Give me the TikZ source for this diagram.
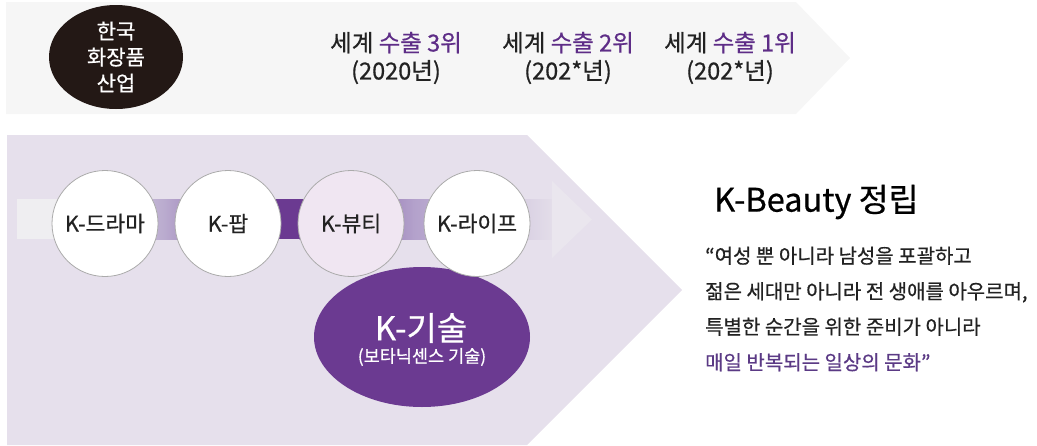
\documentclass[tikz,border=0pt]{standalone}
\usepackage{fontspec}
\setmainfont{Noto Sans CJK KR}[FakeBold=0.6]
\usetikzlibrary{calc,shapes.geometric}
\definecolor{topbg}{HTML}{F6F6F6}
\definecolor{lowbg}{HTML}{E6E0EC}
\definecolor{darkpurp}{HTML}{6B3A91}
\definecolor{txtpurp}{HTML}{5E2D87}
\definecolor{quotepurp}{HTML}{5B3A85}
\definecolor{blackoval}{HTML}{231815}
\definecolor{beautyfill}{HTML}{F0E6F2}
\definecolor{ringgray}{HTML}{ABABAB}
\definecolor{txtdark}{HTML}{222222}
\definecolor{bandA}{HTML}{EFEEF1}
\definecolor{bandB}{HTML}{B9AACE}
\definecolor{bandC}{HTML}{6B3A91}
\definecolor{bandD}{HTML}{B3A1CB}
\definecolor{bandE}{HTML}{E3DDE9}
\definecolor{headfill}{HTML}{EAE6EE}
\tikzset{
  kcircle/.style={circle, minimum size=106pt, inner sep=0pt, fill=white, draw=ringgray, line width=0.8pt,
     text=txtdark, font=\fontsize{21.5}{24}\selectfont},
  rank/.style={align=center, text=txtdark, font=\fontsize{23.5}{28}\selectfont},
}
\begin{document}
\begin{tikzpicture}[x=1pt,y=-1pt]
\useasboundingbox (0,0) rectangle (1037,445);
% top banner
\fill[topbg] (6,2) -- (796,2) -- (850,58) -- (796,114) -- (6,114) -- cycle;
% lower chevron
\fill[lowbg] (7,135) -- (527,135) -- (682,290) -- (527,445) -- (7,445) -- cycle;
% top black oval
\node[ellipse, fill=blackoval, minimum width=134pt, minimum height=104pt, inner sep=0pt,
      text=white, align=center, font=\fontsize{21}{26}\selectfont] (ind) at (116,57) {한국\\화장품\\산업};
% ranks
\node[rank] (r3) at (396,58) {세계 \textcolor{txtpurp}{수출 3위}\\(2020년)};
\node[rank] (r2) at (568,58) {세계 \textcolor{txtpurp}{수출 2위}\\(202*년)};
\node[rank] (r1) at (730,58) {세계 \textcolor{txtpurp}{수출 1위}\\(202*년)};
% arrow band
\fill[bandA] (17,199) rectangle (60,239);
\fill[left color=bandA, right color=bandB] (59.5,199) rectangle (166,239);
\fill[left color=bandB, right color=bandC] (165.5,199) rectangle (275,239);
\fill[bandC] (274.5,199) rectangle (300,239);
\fill[left color=bandC, right color=bandD] (299.5,199) rectangle (414,239);
\fill[left color=bandD, right color=bandE] (413.5,199) rectangle (552,239);
\fill[headfill] (552,181) -- (592,219.5) -- (552,258) -- cycle;
% K-tech oval
\node[ellipse, fill=darkpurp, minimum width=216pt, minimum height=140pt, inner sep=0pt] (tech) at (422,337) {};
\node[text=white, inner sep=0pt, font=\fontsize{33}{36}\selectfont] (techt) at (421,328) {K-기술};
\node[text=white, inner sep=0pt, font=\fontsize{17.5}{20}\selectfont] (techs) at (422,357) {(보타닉센스 기술)};
% circles
\node[kcircle] (drama) at (105,223.5) {K-드라마};
\node[kcircle] (pop) at (228,223.5) {K-팝};
\node[kcircle, fill=beautyfill] (beauty) at (351,223.5) {K-뷰티};
\node[kcircle] (life) at (477,223.5) {K-라이프};
% right texts
\node[anchor=west, text=black, font=\fontsize{32.5}{36}\selectfont, inner sep=0pt] (kb) at (714,202) {K-Beauty 정립};
\node[anchor=west, align=left, text=txtdark, font=\fontsize{20}{35.5}\selectfont, inner sep=0pt] (quote) at (705,309)
  {“여성 뿐 아니라 남성을 포괄하고\\젊은 세대만 아니라 전 생애를 아우르며,\\특별한 순간을 위한 준비가 아니라\\\textcolor{quotepurp}{매일 반복되는 일상의 문화”}};
\end{tikzpicture}
\end{document}
